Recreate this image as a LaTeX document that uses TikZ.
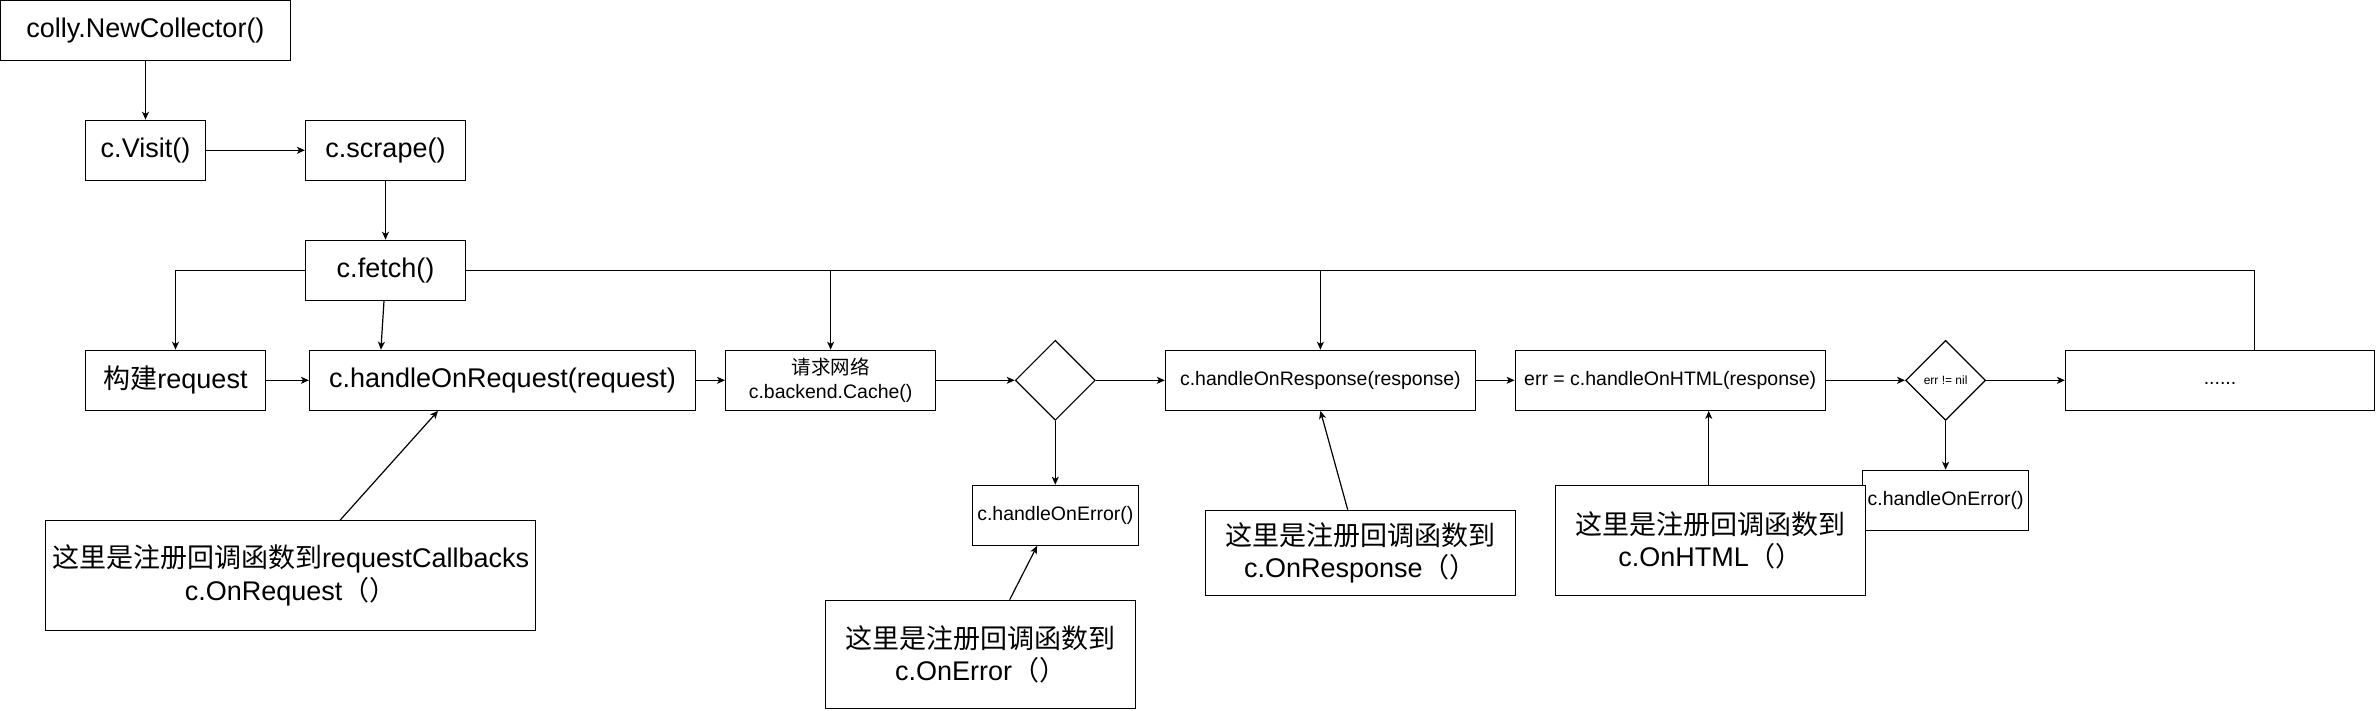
\documentclass[tikz,border=0pt]{standalone}
\usepackage{fontspec}
\setmainfont{Liberation Sans}
\newfontfamily\cjk{Noto Sans CJK SC}
\usetikzlibrary{shapes.geometric,arrows.meta}
\newcommand\FBig{\fontsize{27pt}{32.4pt}\selectfont}
\newcommand\FMid{\fontsize{19.5pt}{23.4pt}\selectfont}
\newcommand\FSml{\fontsize{12pt}{14.4pt}\selectfont}
\tikzset{
  box/.style={draw, line width=1.2pt, fill=white, rectangle, inner sep=0pt, align=center},
  dia/.style={draw, line width=1.2pt, fill=white, diamond, inner sep=0pt, minimum width=80pt, minimum height=80pt, font=\FSml},
  arr/.style={line width=1.2pt, -{Stealth[length=8pt,width=7pt,inset=2.2pt]}},
  ln/.style={line width=1.2pt},
}
\begin{document}
\begin{tikzpicture}[x=1pt,y=-1pt]
\fill[white] (0,0) rectangle (2376,711);
\useasboundingbox (0,0) rectangle (2376,711);

% top chain
\node[box, font=\FBig, minimum width=289.75pt, minimum height=59.5pt] (nc) at (145.5,30.5) {colly.NewCollector()};
\node[box, font=\FBig, minimum width=120pt, minimum height=60pt] (visit) at (145.5,150.3) {c.Visit()};
\node[box, font=\FBig, minimum width=160pt, minimum height=60pt] (scrape) at (385.5,150.3) {c.scrape()};
\node[box, font=\FBig, minimum width=160pt, minimum height=60pt] (fetch) at (385.5,270.3) {c.fetch()};

% main row
\node[box, font=\FBig, minimum width=180pt, minimum height=60pt] (build) at (175.5,380.3) {{\cjk 构建}request};
\node[box, font=\FBig, minimum width=386pt, minimum height=60pt] (hreq) at (502.5,380.3) {c.handleOnRequest(request)};
\node[box, font=\FMid, minimum width=210pt, minimum height=60pt] (cache) at (830.6,380.3) {{\cjk 请求网络}\\c.backend.Cache()};
\node[dia] (d1) at (1055.3,380.3) {};
\node[box, font=\FMid, minimum width=310pt, minimum height=60pt] (hresp) at (1320.4,380.3) {c.handleOnResponse(response)};
\node[box, font=\FMid, minimum width=310pt, minimum height=60pt] (hhtml) at (1670.2,380.3) {err = c.handleOnHTML(response)};
\node[dia] (d2) at (1945.6,380.3) {err != nil};
\node[box, font=\FMid, minimum width=309pt, minimum height=60pt] (more) at (2220,380.3) {\strut......};

% error handlers
\node[box, font=\FMid, minimum width=166pt, minimum height=60pt] (herr1) at (1055.3,515.3) {c.handleOnError()};
\node[box, font=\FMid, minimum width=166pt, minimum height=60pt] (herr2) at (1945.6,500.3) {c.handleOnError()};

% callouts
\node[box, font=\FBig, minimum width=490pt, minimum height=109.6pt] (cb1) at (290.55,575.5) {{\cjk 这里是注册回调函数到}requestCallbacks\\c.OnRequest{\cjk （）}};
\node[box, font=\FBig, minimum width=310pt, minimum height=108.5pt] (cb2) at (980.6,654.5) {{\cjk 这里是注册回调函数到}\\c.OnError{\cjk （）}};
\node[box, font=\FBig, minimum width=310pt, minimum height=85pt] (cb3) at (1360.4,552.8) {{\cjk 这里是注册回调函数到}\\c.OnResponse{\cjk （）}};
\node[box, font=\FBig, minimum width=310pt, minimum height=110pt] (cb4) at (1710.6,540.3) {{\cjk 这里是注册回调函数到}\\c.OnHTML{\cjk （）}};

% connectors top
\draw[arr] (nc) -- (visit);
\draw[arr] (visit) -- (scrape);
\draw[arr] (scrape) -- (fetch);
\draw[arr] (fetch.west) -| (build.north);
\draw[arr] ([xshift=-1.5pt]fetch.south) -- ([xshift=72pt]hreq.north west);
\coordinate (mtop) at ([xshift=189.8pt]more.north west);
\draw[ln] (fetch.east) -| (mtop);
\draw[arr] (fetch.east -| cache.north) -- (cache.north);
\draw[arr] (fetch.east -| hresp.north) -- (hresp.north);

% main row connectors
\draw[arr] (build) -- (hreq);
\draw[arr] (hreq) -- (cache);
\draw[arr] (cache) -- (d1);
\draw[arr] (d1) -- (hresp);
\draw[arr] (hresp) -- (hhtml);
\draw[arr] (hhtml) -- (d2);
\draw[arr] (d2) -- (more);
\draw[arr] (d1.south) -- (herr1.north);
\draw[arr] (d2.south) -- (herr2.north);

% callout connectors
\draw[arr] ([xshift=295.2pt]cb1.north west) -- ([xshift=129.1pt]hreq.south west);
\draw[arr] ([xshift=184.7pt]cb2.north west) -- ([xshift=65.4pt]herr1.south west);
\draw[arr] ([xshift=142.9pt]cb3.north west) -- (hresp.south);
\draw[arr] ([xshift=153.7pt]cb4.north west) -- ([xshift=194.1pt]hhtml.south west);
\end{tikzpicture}
\end{document}
